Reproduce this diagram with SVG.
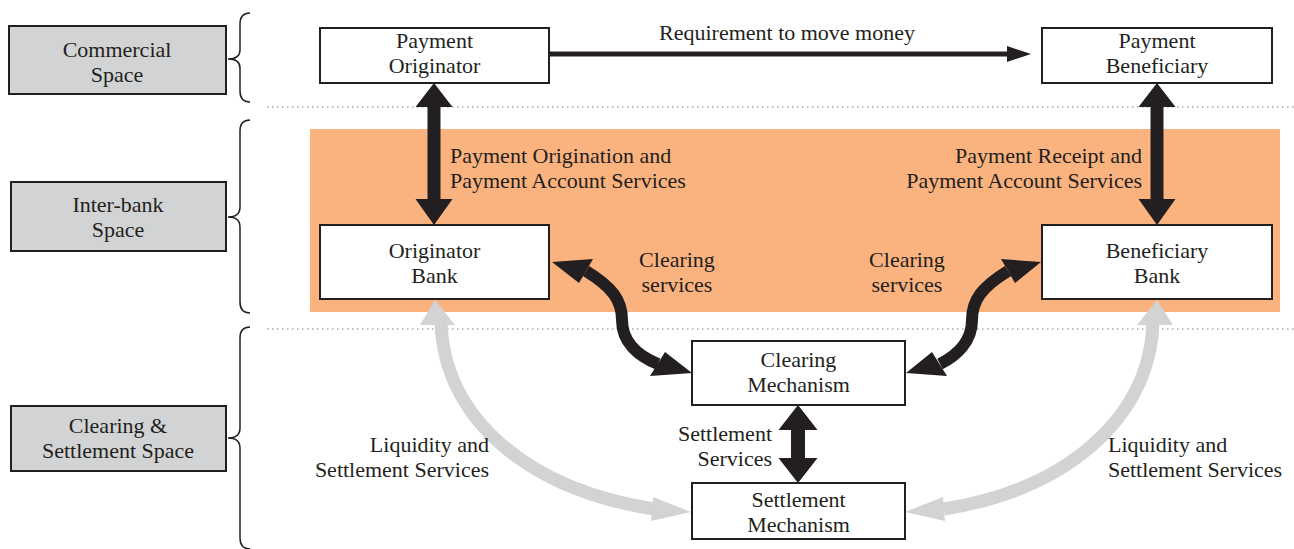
<svg xmlns="http://www.w3.org/2000/svg" width="1294" height="549" viewBox="0 0 1294 549">
<style>
text{font-family:"Liberation Serif","Times New Roman","DejaVu Serif",serif;font-size:22px;fill:#231f20}
.c{text-anchor:middle}
.e{text-anchor:end}
.lbl{fill:#d1d3d4;stroke:#231f20;stroke-width:2}
.node{fill:#ffffff;stroke:#231f20;stroke-width:2}
.brace{fill:none;stroke:#231f20;stroke-width:1.5}
.dot{stroke:#a7a9ac;stroke-width:1.5;stroke-dasharray:1.5 3.5}
.blk{fill:#231f20}
.blkline{fill:none;stroke:#231f20;stroke-width:12}
.gry{fill:#d1d3d4}
.gryline{fill:none;stroke:#d1d3d4;stroke-width:13}
</style>
<rect x="310" y="129" width="970" height="183" fill="#fab27e"/>
<g id="dividers">
<line class="dot" x1="267" y1="107" x2="1294" y2="107"/>
<line class="dot" x1="267" y1="329" x2="1294" y2="329"/>
</g>
<g id="braces">
<path class="brace" d="M250,13 Q240,13 240,24 L240,50 Q240,59 228,59 Q240,59 240,68 L240,91 Q240,102 250,102"/>
<path class="brace" d="M250,120 Q240,120 240,131 L240,207 Q240,217 228,217 Q240,217 240,227 L240,302 Q240,313 250,313"/>
<path class="brace" d="M250,327 Q240,327 240,338 L240,428 Q240,438 228,438 Q240,438 240,448 L240,538 Q240,549 250,549"/>
</g>
<g id="label-commercial">
<rect class="lbl" x="9" y="26" width="217" height="68"/>
<text class="c" x="117" y="57">Commercial</text>
<text class="c" x="117" y="82">Space</text>
</g>
<g id="label-interbank">
<rect class="lbl" x="11" y="182" width="215" height="69"/>
<text class="c" x="118" y="212">Inter-bank</text>
<text class="c" x="118" y="237">Space</text>
</g>
<g id="label-clearing">
<rect class="lbl" x="11" y="406" width="215" height="65"/>
<text class="c" x="118" y="433">Clearing &amp;</text>
<text class="c" x="118" y="458">Settlement Space</text>
</g>
<g id="connectors">
<rect class="blk" x="549" y="51.5" width="460" height="5"/>
<polygon class="blk" points="1007,46 1031,54 1007,62"/>
<polygon class="blk" points="434,83 452.5,107 440.5,107 440.5,199 452.5,199 434,225 415.5,199 427.5,199 427.5,107 415.5,107"/>
<polygon class="blk" points="1157,83 1175.5,107 1163.5,107 1163.5,199 1175.5,199 1157,225 1138.5,199 1150.5,199 1150.5,107 1138.5,107"/>
<polygon class="blk" points="798,405 817.5,430 805,430 805,458 817.5,458 798,483 778.5,458 791,458 791,430 778.5,430"/>
<path class="blkline" d="M586,271 C612,287 622,300 622,320 C622,342 638,356 658,364"/>
<polygon class="blk" points="552,262 593,259 579,283"/>
<polygon class="blk" points="692,373 665,352 650,376"/>
<path class="blkline" d="M1008,271 C982,287 972,300 972,320 C972,342 956,356 940,364"/>
<polygon class="blk" points="1041,262 1001,259 1015,283"/>
<polygon class="blk" points="906,373 932,352 947,376"/>
<path class="gryline" d="M441,322 C444,420 530,490 654,509"/>
<polygon class="gry" points="435,300 420,325 455,325"/>
<polygon class="gry" points="691,512 653,497 651,521"/>
<path class="gryline" d="M1153,322 C1150,420 1064,490 944,509"/>
<polygon class="gry" points="1157,300 1137,325 1173,325"/>
<polygon class="gry" points="905,512 943,497 945,521"/>
</g>
<g id="connector-labels">
<text class="c" x="787" y="40">Requirement to move money</text>
<text x="450" y="163">Payment Origination and</text>
<text x="450" y="188">Payment Account Services</text>
<text class="e" x="1142" y="163">Payment Receipt and</text>
<text class="e" x="1142" y="188">Payment Account Services</text>
<text class="c" x="677" y="267">Clearing</text>
<text class="c" x="677" y="292">services</text>
<text class="c" x="907" y="267">Clearing</text>
<text class="c" x="907" y="292">services</text>
<text class="e" x="772" y="441">Settlement</text>
<text class="e" x="772" y="466">Services</text>
<text class="e" x="489" y="452">Liquidity and</text>
<text class="e" x="489" y="477">Settlement Services</text>
<text x="1108" y="452">Liquidity and</text>
<text x="1108" y="477">Settlement Services</text>
</g>
<g id="payment-originator">
<rect class="node" x="320" y="28" width="229" height="55"/>
<text class="c" x="434.5" y="48">Payment</text>
<text class="c" x="434.5" y="73">Originator</text>
</g>
<g id="payment-beneficiary">
<rect class="node" x="1042" y="28" width="230" height="55"/>
<text class="c" x="1157" y="48">Payment</text>
<text class="c" x="1157" y="73">Beneficiary</text>
</g>
<g id="originator-bank">
<rect class="node" x="320" y="225" width="229" height="74"/>
<text class="c" x="434.5" y="258">Originator</text>
<text class="c" x="434.5" y="283">Bank</text>
</g>
<g id="beneficiary-bank">
<rect class="node" x="1042" y="225" width="230" height="74"/>
<text class="c" x="1157" y="258">Beneficiary</text>
<text class="c" x="1157" y="283">Bank</text>
</g>
<g id="clearing-mechanism">
<rect class="node" x="692" y="341" width="213" height="64"/>
<text class="c" x="798.5" y="367">Clearing</text>
<text class="c" x="798.5" y="392">Mechanism</text>
</g>
<g id="settlement-mechanism">
<rect class="node" x="692" y="483" width="213" height="56"/>
<text class="c" x="798.5" y="507">Settlement</text>
<text class="c" x="798.5" y="532">Mechanism</text>
</g>
</svg>
